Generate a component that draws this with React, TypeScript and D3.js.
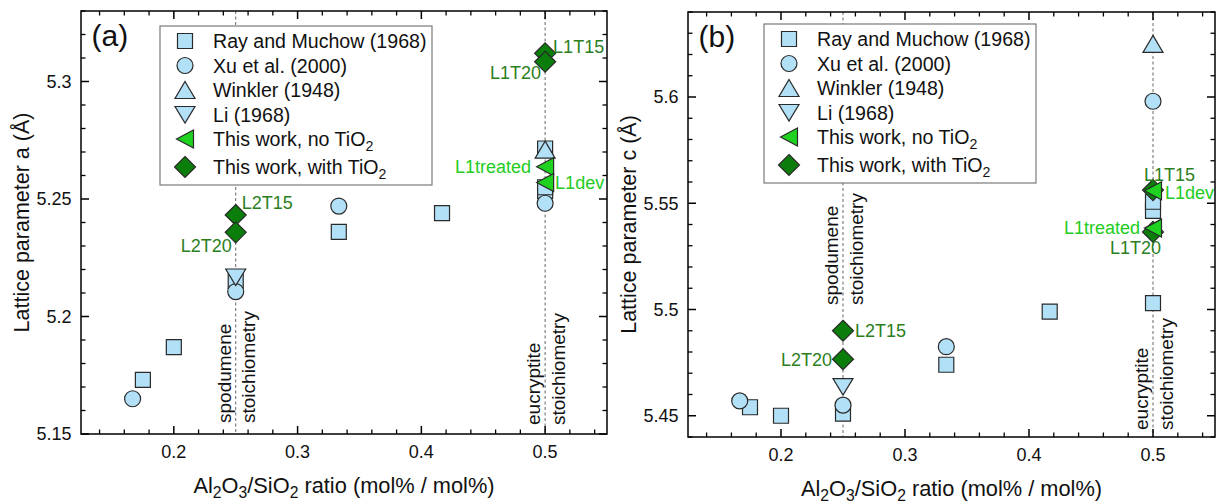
import React from 'react';
import * as d3 from 'd3';

// ---------------- DATA ----------------
// Ray and Muchow (1968)
const rayX = [0.175, 0.2, 0.25, 0.3333, 0.4167, 0.5, 0.5, 0.5];
const rayA = [5.173, 5.187, 5.215, 5.236, 5.244, 5.2715, 5.2535, 5.255];
const rayC = [5.454, 5.45, 5.451, 5.474, 5.499, 5.503, 5.5464, 5.5507];
// Xu et al. (2000)
const xuX = [0.1667, 0.25, 0.3333, 0.5];
const xuA = [5.165, 5.2106, 5.247, 5.2482];
const xuC = [5.457, 5.455, 5.4825, 5.598];
// Winkler (1948)
const winX = [0.5];
const winA = [5.271];
const winC = [5.625];
// Li (1968)
const liX = [0.25];
const liA = [5.2168];
const liC = [5.4637];
// This work, no TiO2
const noTiLabels = ['L1treated', 'L1dev'];
const noTiX = [0.5, 0.5];
const noTiA = [5.2637, 5.257];
const noTiC = [5.5383, 5.5559];
// This work, with TiO2
const tiLabels = ['L2T15', 'L2T20', 'L1T15', 'L1T20'];
const tiX = [0.25, 0.25, 0.5, 0.5];
const tiA = [5.2432, 5.2358, 5.312, 5.3084];
const tiC = [5.49, 5.4766, 5.5562, 5.5365];

const xTicks = [0.2, 0.3, 0.4, 0.5];
const yTicksA = [5.15, 5.2, 5.25, 5.3];
const yTicksC = [5.45, 5.5, 5.55, 5.6];
const xDomain = [0.125, 0.55];
const yDomainA = [5.15, 5.33];
const yDomainC = [5.44, 5.64];
const stoichX = [0.25, 0.5];
const legendNames = [
  'Ray and Muchow (1968)',
  'Xu et al. (2000)',
  'Winkler (1948)',
  'Li (1968)',
  'This work, no TiO2',
  'This work, with TiO2',
];

// ---------------- STYLE ----------------
const FONT = "'Liberation Sans', Arial, Helvetica, sans-serif";
const LIGHT_BLUE = '#b2e0f7';
const LIGHT_GREEN = '#1fd21f';
const DARK_GREEN = '#0b7d0b';
const LABEL_LIGHT = '#22cc22';
const LABEL_DARK = '#2b7f1c';
const STROKE = '#2a2a2a';

function shapePath(kind: string): string {
  switch (kind) {
    case 'square':
      return 'M-7.5,-7.5H7.5V7.5H-7.5Z';
    case 'circle':
      return 'M8,0A8,8 0 1,1 -8,0A8,8 0 1,1 8,0Z';
    case 'up':
      return 'M0,-8.5L10,8.5L-10,8.5Z';
    case 'down':
      return 'M-10,-8L10,-8L0,8.5Z';
    case 'left':
      return 'M-8.5,0L8.5,-9L8.5,9Z';
    case 'diamond':
      return 'M0,-10.5L10.5,0L0,10.5L-10.5,0Z';
    default:
      return '';
  }
}

const legendShapes = ['square', 'circle', 'up', 'down', 'left', 'diamond'];
const legendFills = [LIGHT_BLUE, LIGHT_BLUE, LIGHT_BLUE, LIGHT_BLUE, LIGHT_GREEN, DARK_GREEN];

type LabelPos = { dx: number; dy: number; anchor: string };

const labelPosA: Record<string, LabelPos> = {
  L2T15: { dx: 6, dy: -12, anchor: 'start' },
  L2T20: { dx: -4, dy: 13, anchor: 'end' },
  L1T15: { dx: 8, dy: -7, anchor: 'start' },
  L1T20: { dx: -4, dy: 11, anchor: 'end' },
  L1treated: { dx: -14, dy: 0, anchor: 'end' },
  L1dev: { dx: 10, dy: 0, anchor: 'start' },
};
const labelPosC: Record<string, LabelPos> = {
  L2T15: { dx: 12, dy: 0, anchor: 'start' },
  L2T20: { dx: -11, dy: 0, anchor: 'end' },
  L1T15: { dx: -9, dy: -15, anchor: 'start' },
  L1T20: { dx: 8, dy: 16, anchor: 'end' },
  L1treated: { dx: -13, dy: 0, anchor: 'end' },
  L1dev: { dx: 12, dy: 2, anchor: 'start' },
};

type PanelCfg = {
  key: string;
  tag: string;
  left: number;
  right: number;
  top: number;
  bottom: number;
  yDomain: number[];
  yTicks: number[];
  yMinorRange: [number, number];
  yTitleVar: string;
  ray: number[];
  xu: number[];
  win: number[];
  li: number[];
  noTi: number[];
  ti: number[];
  labelPos: Record<string, LabelPos>;
  legend: { x: number; y: number; w: number; h: number };
  annotBottom: number[];
};

const panels: PanelCfg[] = [
  {
    key: 'a',
    tag: '(a)',
    left: 81,
    right: 607,
    top: 11,
    bottom: 434,
    yDomain: yDomainA,
    yTicks: yTicksA,
    yMinorRange: [515, 533],
    yTitleVar: 'a',
    ray: rayA,
    xu: xuA,
    win: winA,
    li: liA,
    noTi: noTiA,
    ti: tiA,
    labelPos: labelPosA,
    legend: { x: 160, y: 26, w: 272, h: 159 },
    annotBottom: [11, 9],
  },
  {
    key: 'b',
    tag: '(b)',
    left: 688,
    right: 1215,
    top: 12,
    bottom: 437,
    yDomain: yDomainC,
    yTicks: yTicksC,
    yMinorRange: [544, 564],
    yTitleVar: 'c',
    ray: rayC,
    xu: xuC,
    win: winC,
    li: liC,
    noTi: noTiC,
    ti: tiC,
    labelPos: labelPosC,
    legend: { x: 764, y: 24, w: 272, h: 159 },
    annotBottom: [132, 7],
  },
];

function SubText({ parts, sub }: { parts: string[]; sub: number }) {
  return (
    <>
      {parts.map((t, i) =>
        i % 2 === 1 ? (
          <tspan key={i} dy={sub} fontSize="0.72em">
            {t}
          </tspan>
        ) : (
          <tspan key={i} dy={i === 0 ? 0 : -sub}>
            {t}
          </tspan>
        )
      )}
    </>
  );
}

function Panel({ p }: { p: PanelCfg }) {
  const x = d3.scaleLinear().domain(xDomain).range([p.left, p.right]);
  const y = d3.scaleLinear().domain(p.yDomain).range([p.bottom, p.top]);

  const xMinor = d3
    .range(7, 28)
    .map((i) => i * 0.02)
    .filter((v) => Math.abs(v * 10 - Math.round(v * 10)) > 1e-6);
  const yMinor = d3
    .range(p.yMinorRange[0], p.yMinorRange[1] + 1)
    .filter((i) => i % 5 !== 0)
    .map((i) => i / 100);

  const MAJ = 8;
  const MIN = 4.5;

  const series = [
    { shape: 'square', fill: LIGHT_BLUE, xs: rayX, ys: p.ray },
    { shape: 'circle', fill: LIGHT_BLUE, xs: xuX, ys: p.xu },
    { shape: 'up', fill: LIGHT_BLUE, xs: winX, ys: p.win },
    { shape: 'down', fill: LIGHT_BLUE, xs: liX, ys: p.li },
    { shape: 'diamond', fill: DARK_GREEN, xs: tiX, ys: p.ti },
    { shape: 'left', fill: LIGHT_GREEN, xs: noTiX, ys: p.noTi },
  ];

  const annot = [
    ['spodumene', 'stoichiometry'],
    ['eucryptite', 'stoichiometry'],
  ];

  const lg = p.legend;
  const cx = (p.left + p.right) / 2;
  const cy = (p.top + p.bottom) / 2;

  return (
    <g>
      {stoichX.map((v) => (
        <line
          key={'d' + v}
          x1={x(v)}
          x2={x(v)}
          y1={p.top}
          y2={p.bottom}
          stroke="#666"
          strokeWidth={1}
          strokeDasharray="3,2.5"
        />
      ))}
      {stoichX.map((v, k) => {
        const by = p.bottom - p.annotBottom[k];
        return (
          <g key={'an' + k} fontFamily={FONT} fontSize={19} fill="#111">
            <text transform={`translate(${x(v) - 5},${by}) rotate(-90)`}>{annot[k][0]}</text>
            <text transform={`translate(${x(v) + 19.5},${by}) rotate(-90)`}>{annot[k][1]}</text>
          </g>
        );
      })}

      {series.map((s, si) =>
        s.xs.map((xv, i) => (
          <path
            key={si + '-' + i}
            d={shapePath(s.shape)}
            transform={`translate(${x(xv)},${y(s.ys[i])})`}
            fill={s.fill}
            stroke={STROKE}
            strokeWidth={1.2}
            strokeLinejoin="miter"
          />
        ))
      )}

      {tiLabels.map((l, i) => {
        const lp = p.labelPos[l];
        return (
          <text
            key={'tl' + l}
            x={x(tiX[i]) + lp.dx}
            y={y(p.ti[i]) + lp.dy + 6.3}
            textAnchor={lp.anchor}
            fontFamily={FONT}
            fontSize={18}
            fill={LABEL_DARK}
          >
            {l}
          </text>
        );
      })}
      {noTiLabels.map((l, i) => {
        const lp = p.labelPos[l];
        return (
          <text
            key={'nl' + l}
            x={x(noTiX[i]) + lp.dx}
            y={y(p.noTi[i]) + lp.dy + 6.3}
            textAnchor={lp.anchor}
            fontFamily={FONT}
            fontSize={18}
            fill={LABEL_LIGHT}
          >
            {l}
          </text>
        );
      })}

      <rect x={lg.x} y={lg.y} width={lg.w} height={lg.h} fill="#fff" stroke="#7a7a7a" strokeWidth={1.2} />
      {legendNames.map((name, i) => {
        const ry = lg.y + 15 + i * 24.5 + (i === 5 ? 3.5 : 0);
        const hasSub = name.endsWith('TiO2');
        return (
          <g key={'lg' + i}>
            <path
              d={shapePath(legendShapes[i])}
              transform={`translate(${lg.x + 25},${ry})`}
              fill={legendFills[i]}
              stroke={STROKE}
              strokeWidth={1.2}
            />
            <text x={lg.x + 53} y={ry + 7} fontFamily={FONT} fontSize={19.6} fill="#111">
              {hasSub ? <SubText parts={[name.slice(0, -1), '2']} sub={5} /> : name}
            </text>
          </g>
        );
      })}

      <rect
        x={p.left}
        y={p.top}
        width={p.right - p.left}
        height={p.bottom - p.top}
        fill="none"
        stroke="#000"
        strokeWidth={1.5}
      />
      {xTicks.map((v) => (
        <g key={'xt' + v}>
          <line x1={x(v)} x2={x(v)} y1={p.bottom} y2={p.bottom - MAJ} stroke="#000" strokeWidth={1.5} />
          <line x1={x(v)} x2={x(v)} y1={p.top} y2={p.top + MAJ} stroke="#000" strokeWidth={1.5} />
          <text x={x(v)} y={p.bottom + 24} textAnchor="middle" fontFamily={FONT} fontSize={18} fill="#111">
            {String(v)}
          </text>
        </g>
      ))}
      {xMinor.map((v) => (
        <g key={'xm' + v}>
          <line x1={x(v)} x2={x(v)} y1={p.bottom} y2={p.bottom - MIN} stroke="#000" strokeWidth={1.3} />
          <line x1={x(v)} x2={x(v)} y1={p.top} y2={p.top + MIN} stroke="#000" strokeWidth={1.3} />
        </g>
      ))}
      {p.yTicks.map((v) => (
        <g key={'yt' + v}>
          <line x1={p.left} x2={p.left + MAJ} y1={y(v)} y2={y(v)} stroke="#000" strokeWidth={1.5} />
          <line x1={p.right} x2={p.right - MAJ} y1={y(v)} y2={y(v)} stroke="#000" strokeWidth={1.5} />
          <text x={p.left - 9.5} y={y(v) + 6.3} textAnchor="end" fontFamily={FONT} fontSize={18} fill="#111">
            {String(v)}
          </text>
        </g>
      ))}
      {yMinor.map((v) => (
        <g key={'ym' + v}>
          <line x1={p.left} x2={p.left + MIN} y1={y(v)} y2={y(v)} stroke="#000" strokeWidth={1.3} />
          <line x1={p.right} x2={p.right - MIN} y1={y(v)} y2={y(v)} stroke="#000" strokeWidth={1.3} />
        </g>
      ))}

      <text x={cx} y={p.bottom + 58.5} textAnchor="middle" fontFamily={FONT} fontSize={21.8} fill="#111">
        <SubText parts={['Al', '2', 'O', '3', '/SiO', '2', ' ratio (mol% / mol%)']} sub={5} />
      </text>
      <text
        transform={`translate(${p.left - 52},${cy}) rotate(-90)`}
        textAnchor="middle"
        fontFamily={FONT}
        fontSize={21.5}
        fill="#111"
      >
        {`Lattice parameter ${p.yTitleVar} (Å)`}
      </text>
      <text x={p.left + 10.5} y={p.top + 35} fontFamily={FONT} fontSize={30} fill="#111">
        {p.tag}
      </text>
    </g>
  );
}

export default function App() {
  return (
    <svg
      width={1224}
      height={504}
      viewBox="0 0 1224 504"
      style={{ position: 'absolute', left: 0, top: 0, display: 'block', background: '#fff' }}
    >
      <rect x={0} y={0} width={1224} height={504} fill="#fff" />
      {panels.map((p) => (
        <Panel key={p.key} p={p} />
      ))}
    </svg>
  );
}
